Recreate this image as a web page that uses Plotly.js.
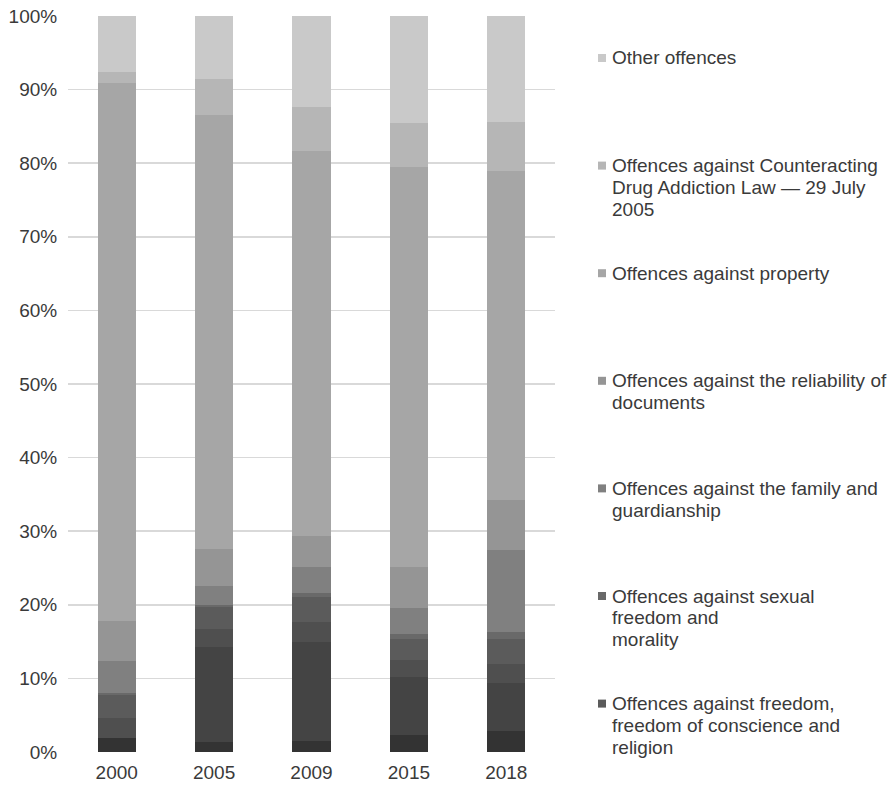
<!DOCTYPE html>
<html>
<head>
<meta charset="utf-8">
<script src="https://cdn.plot.ly/plotly-3.0.1.min.js"></script>
<style>
  html, body { margin: 0; padding: 0; background: #ffffff; }
  #chart { width: 893px; height: 785px; }
</style>
</head>
<body>
<div id="chart"></div>
<script>
// Share of convictions by offence group, per year (percent of total)
const years = ['2000', '2005', '2009', '2015', '2018'];

// Stack order: bottom to top
const unlabelledA = [1.9, 1.4, 1.5, 2.3, 2.8];
const unlabelledB = [0.0, 12.9, 13.4, 7.9, 6.6];
const unlabelledC = [2.7, 2.4, 2.8, 2.3, 2.6];
const freedomConscience = [3.2, 3.0, 3.4, 2.9, 3.3];
const sexualFreedom = [0.2, 0.3, 0.5, 0.6, 1.0];
const familyGuardianship = [4.3, 2.5, 3.5, 3.5, 11.1];
const reliabilityDocs = [5.5, 5.1, 4.3, 5.7, 6.8];
const property = [73.1, 58.9, 52.3, 54.3, 44.8];
const drugAddictionLaw = [1.5, 4.9, 6.0, 5.9, 6.6];
const otherOffences = [7.6, 8.6, 12.3, 14.6, 14.4];

const stackValues = [unlabelledA, unlabelledB, unlabelledC, freedomConscience, sexualFreedom,
  familyGuardianship, reliabilityDocs, property, drugAddictionLaw, otherOffences];
const stackNames = ['Unlabelled group A', 'Unlabelled group B', 'Unlabelled group C',
  'Offences against freedom, freedom of conscience and religion',
  'Offences against sexual freedom and morality',
  'Offences against the family and guardianship',
  'Offences against the reliability of documents',
  'Offences against property',
  'Offences against Counteracting Drug Addiction Law — 29 July 2005',
  'Other offences'];
const stackColors = ['#333333', '#444444', '#4f4f4f', '#5b5b5b', '#696969',
  '#808080', '#959595', '#a6a6a6', '#b6b6b6', '#c9c9c9'];

// Legend entries, top to bottom, with their line breaks
const legendLines = [
  ['Other offences'],
  ['Offences against Counteracting', 'Drug Addiction Law — 29 July', '2005'],
  ['Offences against property'],
  ['Offences against the reliability of', 'documents'],
  ['Offences against the family and', 'guardianship'],
  ['Offences against sexual', 'freedom and', 'morality'],
  ['Offences against freedom,', 'freedom of conscience and', 'religion']
];
const legendSeriesIndex = [9, 8, 7, 6, 5, 4, 3];

const yTickVals = [0, 10, 20, 30, 40, 50, 60, 70, 80, 90, 100];
const yTickText = yTickVals.map(v => v + '%');

const FONT = '"Liberation Sans", Arial, sans-serif';
const TEXT_COLOR = '#3a3a3a';

const traces = stackValues.map((vals, i) => ({
  type: 'bar',
  x: years,
  y: vals,
  name: stackNames[i],
  marker: { color: stackColors[i], line: { width: 0 } },
  showlegend: false,
  hoverinfo: 'name+y'
}));

// Plot-area geometry in pixels, used to place the side legend
const L = 68, W = 487, B = 752, H = 736;
const px2x = px => (px - L) / W;
const px2y = py => (B - py) / H;

const annotations = [];
const shapes = [];
const firstLineY = 58, entryStep = 107.6, lineStep = 21.8;
legendLines.forEach((lines, k) => {
  const y0 = firstLineY + k * entryStep;
  shapes.push({
    type: 'rect', xref: 'paper', yref: 'paper',
    x0: px2x(598), x1: px2x(606), y0: px2y(y0 + 4), y1: px2y(y0 - 4),
    fillcolor: stackColors[legendSeriesIndex[k]], line: { width: 0 }
  });
  lines.forEach((t, j) => {
    annotations.push({
      xref: 'paper', yref: 'paper',
      x: px2x(610), y: px2y(y0 + j * lineStep),
      xanchor: 'left', yanchor: 'middle', align: 'left',
      text: t, showarrow: false,
      font: { family: FONT, size: 19, color: TEXT_COLOR }
    });
  });
});

const layout = {
  width: 893, height: 785,
  margin: { l: L, r: 893 - L - W, t: B - H, b: 785 - B, pad: 0 },
  paper_bgcolor: '#ffffff', plot_bgcolor: '#ffffff',
  barmode: 'stack',
  bargap: 0.607,
  showlegend: false,
  font: { family: FONT, size: 19, color: TEXT_COLOR },
  xaxis: {
    type: 'category',
    showgrid: false, zeroline: false, showline: false,
    ticks: 'outside', ticklen: 3, tickcolor: 'rgba(0,0,0,0)',
    tickfont: { family: FONT, size: 19, color: TEXT_COLOR }
  },
  yaxis: {
    range: [0, 100],
    tickvals: yTickVals, ticktext: yTickText,
    showgrid: true, gridcolor: '#d9d9d9', gridwidth: 1.5,
    zeroline: false, showline: false,
    ticks: 'outside', ticklen: 6, tickcolor: 'rgba(0,0,0,0)',
    tickfont: { family: FONT, size: 19, color: TEXT_COLOR }
  },
  shapes: shapes,
  annotations: annotations
};

Plotly.newPlot('chart', traces, layout, { displayModeBar: false, staticPlot: true });
</script>
</body>
</html>
